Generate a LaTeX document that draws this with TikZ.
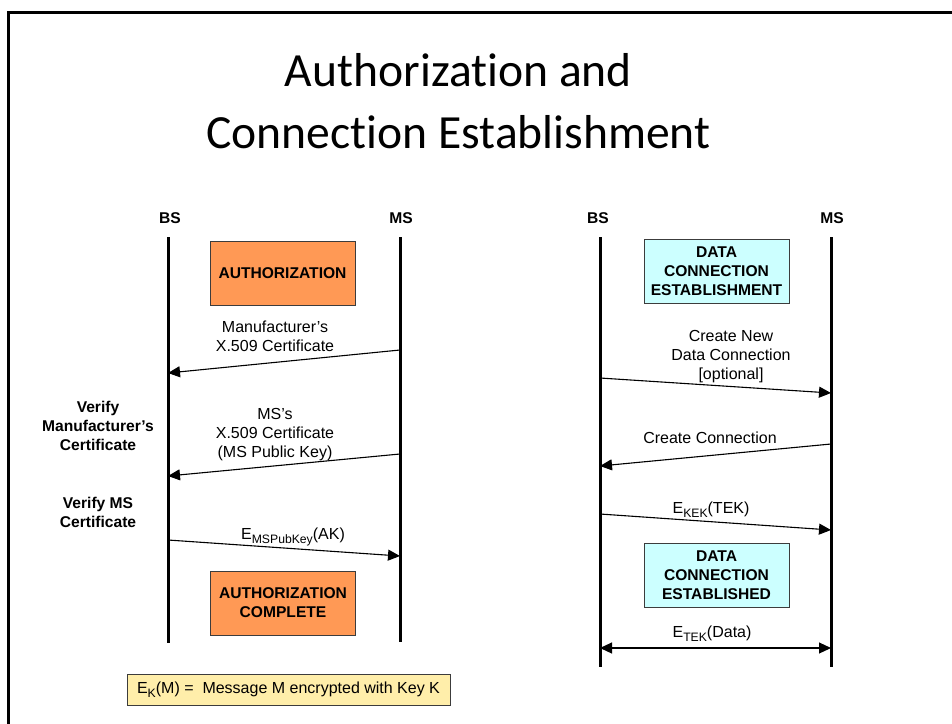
\documentclass[tikz,border=0pt]{standalone}
\usepackage{fontspec}
\setmainfont{Liberation Sans}
\newfontfamily\titlefont[Ligatures=NoCommon]{Carlito}
\usetikzlibrary{arrows.meta}
\definecolor{authorange}{RGB}{255,153,85}
\definecolor{conncyan}{RGB}{204,255,255}
\definecolor{notecream}{RGB}{255,238,170}
\definecolor{boxedge}{RGB}{60,60,60}
% several centred lines whose reference point is the first baseline
\newcommand{\stacklines}[1]{\begin{tabular}[t]{@{}c@{}}#1\end{tabular}}
% key subscript, set a little smaller and lowered
\newcommand{\keysub}[1]{\raisebox{-4.5pt}{\fontsize{12.2}{12}\selectfont #1}}

\begin{document}
\begin{tikzpicture}[x=1pt,y=-1pt,
  lifeline/.style={line width=3pt},
  msg/.style={line width=1.1pt,-{Triangle[length=12pt,width=11pt]}},
  msgboth/.style={line width=1.1pt,{Triangle[length=12pt,width=11pt]}-{Triangle[length=12pt,width=11pt]}},
  phase/.style={draw=boxedge,line width=1pt,minimum width=145pt,minimum height=64pt,
    inner sep=0pt,align=center,font=\fontsize{15.6}{19}\selectfont\bfseries},
  actor/.style={font=\fontsize{15.6}{19}\selectfont\bfseries,inner sep=0pt},
  msglabel/.style={anchor=base,inner sep=0pt,font=\fontsize{16}{19}\selectfont},
  sidenote/.style={anchor=base,inner sep=0pt,font=\fontsize{15.6}{19}\selectfont\bfseries},
  heading/.style={anchor=base,inner sep=0pt,font=\fontsize{47.6}{60}\titlefont},
]
\useasboundingbox (0,0) rectangle (952,723);

% slide frame
\draw[line width=3pt] (8.5,760) -- (8.5,12.5) -- (990,12.5);

% title
\node[heading] (title1) at (458.5,86) {Authorization and};
\node[heading] (title2) at (458.5,148) {Connection Establishment};

% ---------------- authorization exchange ----------------
\node[actor] (aBS) at (170,218) {BS};
\node[actor] (aMS) at (401,218) {MS};
\coordinate (aBSt) at (168,237);
\coordinate (aBSb) at (168,643);
\coordinate (aMSt) at (400,237);
\coordinate (aMSb) at (400,642);
\draw[lifeline] (aBSt) -- (aBSb);
\draw[lifeline] (aMSt) -- (aMSb);

\node[phase,fill=authorange] (auth) at (282.5,273) {AUTHORIZATION};
\node[phase,fill=authorange] (authdone) at (283,603) {AUTHORIZATION\\COMPLETE};

\coordinate (m1a) at (400,350);
\coordinate (m1b) at (168,373);
\draw[msg] (m1a) -- (m1b);
\node[msglabel] (m1l) at (275,332) {\stacklines{Manufacturer’s\\X.509 Certificate}};

\coordinate (m2a) at (400,454);
\coordinate (m2b) at (168,476);
\draw[msg] (m2a) -- (m2b);
\node[msglabel] (m2l) at (275,419) {\stacklines{MS’s\\X.509 Certificate\\(MS Public Key)}};

\coordinate (m3a) at (168,540);
\coordinate (m3b) at (400,556);
\draw[msg] (m3a) -- (m3b);
\node[msglabel] (m3l) at (293,539) {E\keysub{MSPubKey}(AK)};

\node[sidenote] (vman) at (98,412) {\stacklines{Verify\\Manufacturer’s\\Certificate}};
\node[sidenote] (vms) at (98,508) {\stacklines{Verify MS\\Certificate}};

\node[draw=boxedge,line width=1pt,fill=notecream,minimum width=323pt,minimum height=31pt,
  inner sep=0pt,font=\fontsize{16}{19}\selectfont] (legend) at (288.5,689.5)
  {E\keysub{K}(M) =~ Message M encrypted with Key K};

% ---------------- data connection exchange ----------------
\node[actor] (dBS) at (598,218) {BS};
\node[actor] (dMS) at (832,218) {MS};
\coordinate (dBSt) at (600,237);
\coordinate (dBSb) at (600,667);
\coordinate (dMSt) at (831,237);
\coordinate (dMSb) at (831,667);
\draw[lifeline] (dBSt) -- (dBSb);
\draw[lifeline] (dMSt) -- (dMSb);

\node[phase,fill=conncyan] (dce) at (716.5,271.5) {DATA\\CONNECTION\\ESTABLISHMENT};
\node[phase,fill=conncyan] (dced) at (716.5,575) {DATA\\CONNECTION\\ESTABLISHED};

\coordinate (m4a) at (600,378);
\coordinate (m4b) at (831,393);
\draw[msg] (m4a) -- (m4b);
\node[msglabel] (m4l) at (731,341) {\stacklines{Create New\\Data Connection\\[0pt][optional]}};

\coordinate (m5a) at (831,444);
\coordinate (m5b) at (600,466);
\draw[msg] (m5a) -- (m5b);
\node[msglabel] (m5l) at (710,443) {Create Connection};

\coordinate (m6a) at (600,514);
\coordinate (m6b) at (831,530);
\draw[msg] (m6a) -- (m6b);
\node[msglabel] (m6l) at (711,513) {E\keysub{KEK}(TEK)};

\coordinate (m7a) at (600,648);
\coordinate (m7b) at (831,648);
\draw[msgboth] (m7a) -- (m7b);
\node[msglabel] (m7l) at (712,637) {E\keysub{TEK}(Data)};
\end{tikzpicture}
\end{document}
